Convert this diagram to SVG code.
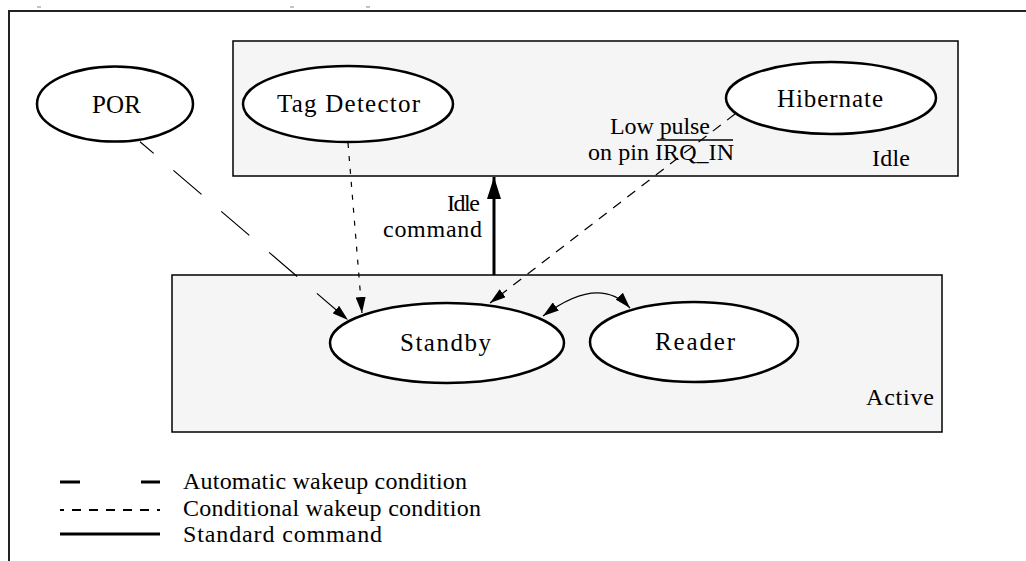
<svg xmlns="http://www.w3.org/2000/svg" width="1026" height="561" viewBox="0 0 1026 561">
<style>
.t{font-family:'Liberation Serif','DejaVu Serif',serif;font-size:24px;fill:#000}
.n{font-size:25px}
.box{fill:#f5f5f5;stroke:#000;stroke-width:1.5}
.st{fill:#fff;stroke:#000;stroke-width:2.5}
.c{fill:none;stroke:#000;stroke-width:1.2}
</style>
<defs>
<marker id="ah" viewBox="0 0 16 10" markerWidth="16" markerHeight="10" refX="16" refY="5" orient="auto-start-reverse" markerUnits="userSpaceOnUse"><path d="M0,0 L16,5 L0,10 z" fill="#000"/></marker>
<marker id="ahb" viewBox="0 0 22 14" markerWidth="22" markerHeight="14" refX="22" refY="7" orient="auto" markerUnits="userSpaceOnUse"><path d="M0,0 L22,7 L0,14 z" fill="#000"/></marker>
</defs>
<rect width="1026" height="561" fill="#fff"/>
<g id="frame">
<path d="M9,561 V11 H1026" fill="none" stroke="#222" stroke-width="2"/>
<g stroke="#888" stroke-width="1"><line x1="37" y1="7" x2="41" y2="7"/><line x1="290" y1="7" x2="294" y2="7"/><line x1="366" y1="7" x2="370" y2="7"/></g>
</g>
<g id="idle">
<rect class="box" x="233" y="41" width="725" height="135"/>
<text class="t" x="872" y="166" textLength="38">Idle</text>
</g>
<g id="active">
<rect class="box" x="172" y="275" width="770" height="157"/>
<text class="t" x="866" y="405" textLength="68">Active</text>
</g>
<g id="connectors">
<path class="c" d="M140,141.7 L348,320" stroke-dasharray="37 26" stroke-dashoffset="19" marker-end="url(#ah)"/>
<path class="c" d="M348,143 L362,313" stroke-dasharray="5 8" marker-end="url(#ah)"/>
<path class="c" d="M735,114 L490,303" stroke-dasharray="10 8" marker-end="url(#ah)"/>
<path d="M494,275 L494,177" fill="none" stroke="#000" stroke-width="3" marker-end="url(#ahb)"/>
<path class="c" d="M543,316 Q599,274 630,308" marker-start="url(#ah)" marker-end="url(#ah)"/>
</g>
<g id="labels">
<text class="t" x="610" y="134" textLength="100">Low pulse</text>
<text class="t" x="588" y="160" textLength="146">on pin IRQ_IN</text>
<line x1="657" y1="140" x2="733" y2="140" stroke="#000" stroke-width="1.3"/>
<text class="t" x="447" y="211" textLength="33">Idle</text>
<text class="t" x="383" y="237" textLength="99">command</text>
</g>
<g id="por">
<ellipse class="st" cx="115" cy="104" rx="78" ry="37.5"/>
<text class="t n" x="92" y="113" textLength="49">POR</text>
</g>
<g id="tagdetector">
<ellipse class="st" cx="348" cy="104" rx="105" ry="38"/>
<text class="t n" x="277" y="112" textLength="143">Tag Detector</text>
</g>
<g id="hibernate">
<ellipse class="st" cx="831" cy="98" rx="105" ry="36"/>
<text class="t n" x="777" y="107" textLength="106">Hibernate</text>
</g>
<g id="standby">
<ellipse class="st" cx="447" cy="343" rx="117" ry="40"/>
<text class="t n" x="400" y="351" textLength="91">Standby</text>
</g>
<g id="reader">
<ellipse class="st" cx="694" cy="342" rx="104" ry="40"/>
<text class="t n" x="655" y="350" textLength="80">Reader</text>
</g>
<g id="legend">
<line x1="60" y1="482" x2="80" y2="482" stroke="#000" stroke-width="3"/>
<line x1="141" y1="482" x2="160" y2="482" stroke="#000" stroke-width="3"/>
<line x1="60" y1="510" x2="160" y2="510" stroke="#000" stroke-width="2" stroke-dasharray="9 8" stroke-dashoffset="5"/>
<line x1="60" y1="534" x2="160" y2="534" stroke="#000" stroke-width="3"/>
<text class="t" x="183" y="489" textLength="284">Automatic wakeup condition</text>
<text class="t" x="183" y="516" textLength="298">Conditional wakeup condition</text>
<text class="t" x="183" y="542" textLength="199">Standard command</text>
</g>
</svg>
